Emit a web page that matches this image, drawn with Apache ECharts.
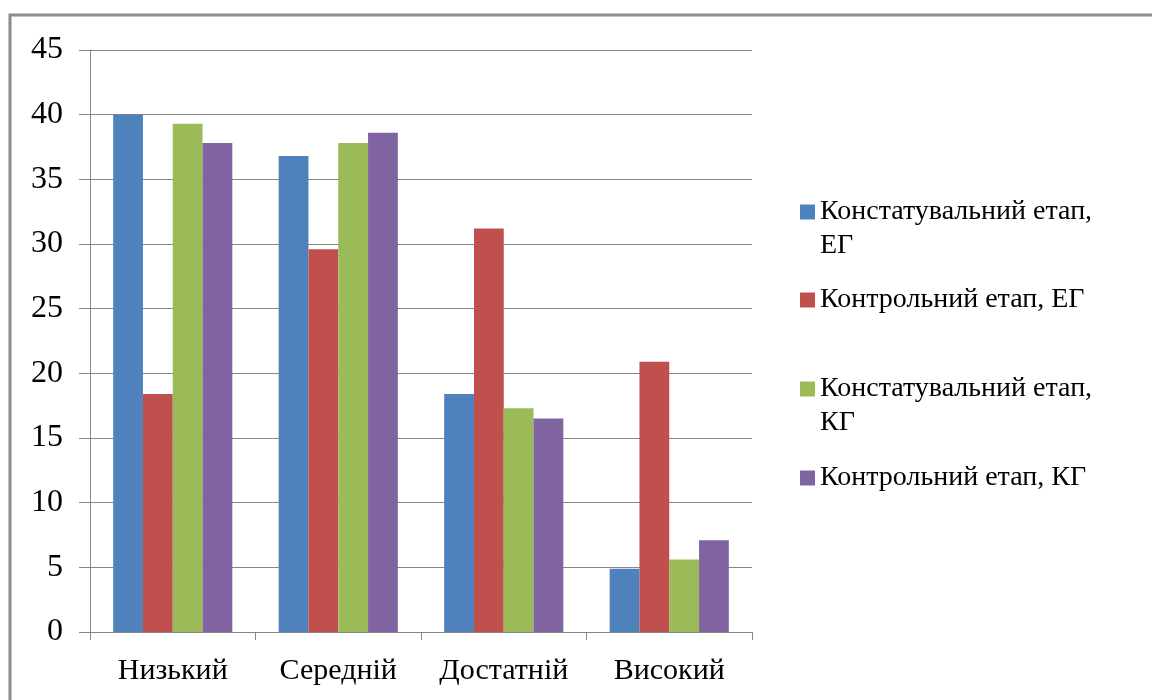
<!DOCTYPE html>
<html>
<head>
<meta charset="utf-8">
<script src="https://cdn.jsdelivr.net/npm/echarts@6/dist/echarts.min.js"></script>
<style>html,body{margin:0;padding:0;background:#fff;}#c{width:1152px;height:700px;}</style>
</head>
<body>
<div id="c"></div>
<script>
const categories = ['Низький', 'Середній', 'Достатній', 'Високий'];
const seriesNames = ['Констатувальний етап, ЕГ', 'Контрольний етап, ЕГ', 'Констатувальний етап, КГ', 'Контрольний етап, КГ'];
const legendLabels = ['Констатувальний етап,\nЕГ', 'Контрольний етап, ЕГ', 'Констатувальний етап,\nКГ', 'Контрольний етап, КГ'];
const konstEG = [40, 36.8, 18.4, 4.9];
const kontrEG = [18.4, 29.6, 31.2, 20.9];
const konstKG = [39.3, 37.8, 17.3, 5.6];
const kontrKG = [37.8, 38.6, 16.5, 7.1];
const colors = ['#4F81BD', '#C0504D', '#9BBB59', '#8064A2'];
const values = [konstEG, kontrEG, konstKG, kontrKG];

const font = '"Liberation Serif", "Times New Roman", serif';
const LH = 34;
const legendCenters = [212, 300, 389, 478];

const chart = echarts.init(document.getElementById('c'));
chart.setOption({
  animation: false,
  backgroundColor: '#fff',
  color: colors,
  graphic: [{
    type: 'rect', silent: true,
    shape: { x: 10, y: 15, width: 1160, height: 720 },
    style: { fill: 'none', stroke: '#8c8c8c', lineWidth: 3 }
  }],
  grid: { left: 90, right: 400, top: 50, bottom: 68, containLabel: false },
  legend: seriesNames.map((n, i) => {
    const multi = legendLabels[i].indexOf('\n') >= 0;
    return {
      data: [n], left: 800, top: legendCenters[i] - (multi ? 1.5 * LH : LH / 2),
      padding: 0,
      orient: 'vertical', itemWidth: 15, itemHeight: 15, itemGap: 0,
      selectedMode: false, icon: 'rect',
      formatter: () => (multi ? '\n' : '') + legendLabels[i],
      textStyle: { fontFamily: font, fontSize: 28, color: '#000', lineHeight: LH }
    };
  }),
  xAxis: {
    type: 'category', data: categories,
    axisLine: { lineStyle: { color: '#868686', width: 1 } },
    axisTick: { show: true, interval: 0, length: 8, lineStyle: { color: '#868686' } },
    axisLabel: { interval: 0, hideOverlap: false, fontFamily: font, fontSize: 30, color: '#000', margin: 24 },
    splitLine: { show: false }
  },
  yAxis: {
    type: 'value', min: 0, max: 45, interval: 5,
    axisLine: { show: true, lineStyle: { color: '#868686', width: 1 } },
    axisTick: { show: true, length: 11, lineStyle: { color: '#868686' } },
    axisLabel: { fontFamily: font, fontSize: 32, color: '#000', margin: 27 },
    splitLine: { show: true, lineStyle: { color: '#868686', width: 1 } }
  },
  series: values.map((v, i) => ({
    type: 'bar', name: seriesNames[i], data: v,
    barGap: '0%', barCategoryGap: '28%',
    itemStyle: { color: colors[i] }
  }))
});
</script>
</body>
</html>
